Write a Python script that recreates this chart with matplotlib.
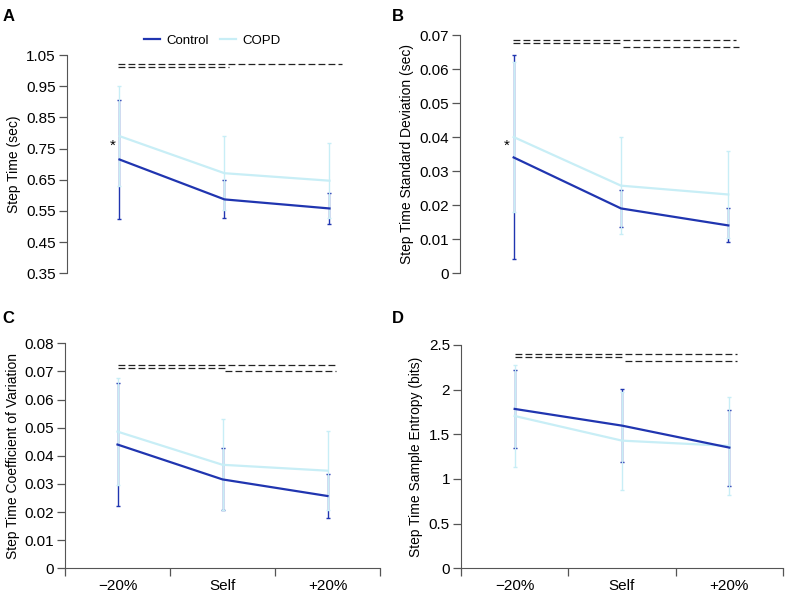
import matplotlib
matplotlib.use("Agg")
import matplotlib.pyplot as plt
from matplotlib.ticker import FixedLocator

plt.rcParams.update({"font.family": ["Liberation Sans", "DejaVu Sans"], "font.size": 10})

speeds = ["\u221220%", "Self", "+20%"]

# panel A: step time (sec)
a_ctrl = [0.715, 0.587, 0.558]
a_ctrl_sd = [0.190, 0.061, 0.051]
a_copd = [0.790, 0.671, 0.647]
a_copd_sd = [0.161, 0.119, 0.120]
a_ticks = [0.35, 0.45, 0.55, 0.65, 0.75, 0.85, 0.95, 1.05]

# panel B: step time SD (sec)
b_ctrl = [0.034, 0.019, 0.014]
b_ctrl_sd = [0.030, 0.0055, 0.005]
b_copd = [0.040, 0.0257, 0.0231]
b_copd_sd = [0.022, 0.0143, 0.0127]
b_ticks = [0, 0.01, 0.02, 0.03, 0.04, 0.05, 0.06, 0.07]

# panel C: coefficient of variation
c_ctrl = [0.044, 0.0316, 0.0257]
c_ctrl_sd = [0.022, 0.011, 0.0077]
c_copd = [0.0486, 0.0368, 0.0347]
c_copd_sd = [0.019, 0.0162, 0.014]
c_ticks = [0, 0.01, 0.02, 0.03, 0.04, 0.05, 0.06, 0.07, 0.08]

# panel D: sample entropy (bits)
d_ctrl = [1.784, 1.597, 1.351]
d_ctrl_sd = [0.435, 0.41, 0.425]
d_copd = [1.705, 1.429, 1.37]
d_copd_sd = [0.573, 0.55, 0.55]
d_ticks = [0, 0.5, 1, 1.5, 2, 2.5]

# significance bars: (x start, x end, y)
a_sig = [(-0.01, 2.12, 1.022), (-0.01, 1.04, 1.0115)]
b_sig = [(-0.01, 2.07, 0.0685), (-0.01, 1.02, 0.0676), (1.02, 2.1, 0.0666)]
c_sig = [(0.0, 2.08, 0.0724), (0.0, 1.02, 0.0712), (1.02, 2.08, 0.0700)]
d_sig = [(0.0, 2.07, 2.399), (0.0, 1.03, 2.362), (1.03, 2.07, 2.324)]

CTRL = "#2035b0"
COPD = "#c8eef6"


def panel(ax, ctrl, ctrl_sd, copd, copd_sd, ticks, ylabel, sig, bottom_axis):
    x = range(len(speeds))
    ax.errorbar(x, ctrl, yerr=ctrl_sd, fmt="none", ecolor=CTRL, elinewidth=1.0,
                capsize=1.2, capthick=1.0, zorder=1)
    ax.errorbar(x, copd, yerr=copd_sd, fmt="none", ecolor=COPD, elinewidth=1.0,
                capsize=1.2, capthick=1.0, zorder=2)
    ax.plot(x, copd, color=COPD, lw=1.6, zorder=3, label="COPD")
    ax.plot(x, ctrl, color=CTRL, lw=1.6, zorder=4, label="Control")
    for x0, x1, y in sig:
        ax.plot([x0, x1], [y, y], color="#222222", lw=0.9,
                linestyle=(0, (5.5, 2.5)), zorder=5)
    ax.set_xlim(-0.5, 2.5)
    ax.set_ylim(ticks[0], ticks[-1])
    ax.set_yticks(ticks)
    ax.set_yticklabels(["%g" % t for t in ticks])
    ax.set_ylabel(ylabel, fontsize=10)
    ax.spines["top"].set_visible(False)
    ax.spines["right"].set_visible(False)
    ax.spines["left"].set_color("#555555")
    ax.tick_params(axis="y", length=6, width=0.9, color="#555555", pad=2, labelsize=11)
    if bottom_axis:
        ax.spines["bottom"].set_color("#555555")
        ax.set_xticks(list(x))
        ax.set_xticklabels(speeds)
        ax.xaxis.set_minor_locator(FixedLocator([-0.5, 0.5, 1.5, 2.5]))
        ax.tick_params(axis="x", which="major", length=0, pad=8, labelsize=11)
        ax.tick_params(axis="x", which="minor", length=6, width=0.9, color="#555555")
    else:
        ax.spines["bottom"].set_visible(False)
        ax.set_xticks([])


fig = plt.figure(figsize=(7.86, 5.96), dpi=100)
ax_a = fig.add_axes([0.0852, 0.5414, 0.4008, 0.3663])
ax_b = fig.add_axes([0.5852, 0.5419, 0.4097, 0.3993])
ax_c = fig.add_axes([0.0827, 0.0465, 0.4008, 0.3775])
ax_d = fig.add_axes([0.5865, 0.0465, 0.4097, 0.3747])

panel(ax_a, a_ctrl, a_ctrl_sd, a_copd, a_copd_sd, a_ticks, "Step Time (sec)", a_sig, False)
panel(ax_b, b_ctrl, b_ctrl_sd, b_copd, b_copd_sd, b_ticks,
      "Step Time Standard Deviation (sec)", b_sig, False)
panel(ax_c, c_ctrl, c_ctrl_sd, c_copd, c_copd_sd, c_ticks,
      "Step Time Coefficient of Variation", c_sig, True)
panel(ax_d, d_ctrl, d_ctrl_sd, d_copd, d_copd_sd, d_ticks,
      "Step Time Sample Entropy (bits)", d_sig, True)

ax_a.yaxis.set_label_coords(-0.146, 0.5)
ax_b.yaxis.set_label_coords(-0.143, 0.5)
ax_c.yaxis.set_label_coords(-0.143, 0.5)
ax_d.yaxis.set_label_coords(-0.118, 0.5)

# significance asterisks
ax_a.text(-0.06, 0.758, "*", ha="center", va="center", fontsize=11)
ax_b.text(-0.06, 0.0374, "*", ha="center", va="center", fontsize=11)

handles, labels = ax_a.get_legend_handles_labels()
ax_a.legend(handles[::-1], labels[::-1], loc="lower left", bbox_to_anchor=(0.22, 1.0),
            ncol=2, frameon=False, fontsize=9.5, handlelength=1.2, handletextpad=0.5,
            columnspacing=0.8, borderaxespad=0.2)

for letter, (x, y) in zip("ABCD", [(0.003, 0.985), (0.499, 0.985), (0.003, 0.478), (0.499, 0.478)]):
    fig.text(x, y, letter, fontsize=12, fontweight="bold", ha="left", va="top")

fig.savefig("out.png", dpi=100)
